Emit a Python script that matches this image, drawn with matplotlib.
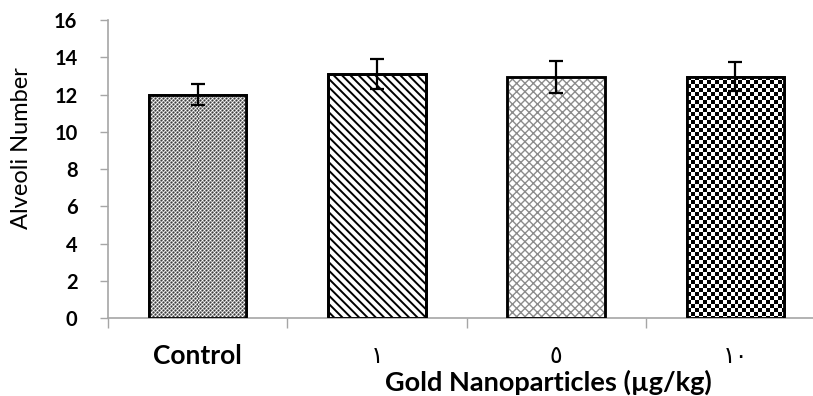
import numpy as np
import matplotlib
matplotlib.use("Agg")
import matplotlib.pyplot as plt

categories = ["Control", "١", "٥", "١٠"]
values = [12.0, 13.1, 12.95, 12.95]
errors = [0.55, 0.8, 0.85, 0.78]
yticks = [0, 2, 4, 6, 8, 10, 12, 14, 16]
ylabel = "Alveoli Number"
xlabel = "Gold Nanoparticles (µg/kg)"

FAM = ["Lato", "DejaVu Sans"]
plt.rcParams["font.family"] = FAM

W, H, DPI = 813, 396, 100
fig = plt.figure(figsize=(W / DPI, H / DPI), dpi=DPI)
ax = fig.add_axes([108 / W, 78 / H, (825 - 108) / W, (376 - 78) / H])

x = np.arange(len(categories))
plt.rcParams["hatch.linewidth"] = 1.4
bars = ax.bar(x, values, width=0.545, color="white", edgecolor="black",
              linewidth=2.0, zorder=2)
ax.errorbar(x, values, yerr=errors, fmt="none", ecolor="black",
            elinewidth=1.6, capsize=5, capthick=1.6, zorder=5)

ax.set_xlim(-0.5, len(categories) - 0.5)
ax.set_ylim(0, 16)
ax.set_yticks(yticks)
ax.set_yticklabels([str(v) for v in yticks], fontsize=14.5, fontweight="bold")
ax.set_xticks(x)
ax.set_xticklabels(categories, fontsize=19, fontweight="bold")
for lab in ax.get_xticklabels()[1:]:
    lab.set_fontweight("normal")
    lab.set_fontsize(17)
    lab.set_family(["DejaVu Sans"])
ax.tick_params(axis="x", length=0, pad=19)
ax.set_xticks(np.arange(len(categories) + 1) - 0.5, minor=True)
ax.tick_params(axis="x", which="minor", length=7, color="#a6a6a6", width=1)
ax.tick_params(axis="y", length=6, color="#a6a6a6", width=1, pad=16)
for s in ["top", "right"]:
    ax.spines[s].set_visible(False)
for s in ["left", "bottom"]:
    ax.spines[s].set_color("#a6a6a6")
    ax.spines[s].set_linewidth(1.2)

ax.set_ylabel(ylabel, fontsize=17)
ax.yaxis.label.set_va("center")
ax.yaxis.set_label_coords(-0.12, 0.57)
ax.set_xlabel(xlabel, fontsize=19.5, fontweight="bold")
ax.xaxis.label.set_va("center")
ax.xaxis.set_label_coords(0.614, -0.215)

# textures
def texture(bar, tile):
    x0, y0 = bar.get_x(), bar.get_y()
    x1, y1 = x0 + bar.get_width(), y0 + bar.get_height()
    (px0, py0), (px1, py1) = ax.transData.transform([(x0, y0), (x1, y1)])
    nx, ny = int(round(px1 - px0)) + 1, int(round(py1 - py0)) + 1
    th, tw = tile.shape
    img = np.tile(tile, (ny // th + 2, nx // tw + 2))[:ny, :nx]
    im = ax.imshow(img, cmap="gray", vmin=0, vmax=255, extent=(x0, x1, y0, y1),
                   origin="upper", interpolation="nearest", aspect="auto", zorder=2.5)
    im.set_clip_path(bar)

tile_ctrl = np.array([[255, 140, 60, 140],
                      [140, 180, 140, 210],
                      [60, 140, 255, 140],
                      [140, 210, 140, 180]])
texture(bars[0], tile_ctrl)
b = 255
k = 4
cell = np.kron(np.array([[0, b], [b, 0]]), np.ones((k, k)))
texture(bars[3], cell)

bars[1].set_hatch("\\" * 4)
bars[1].set_edgecolor("black")
bars[2].set_hatch("x" * 4)
bars[2].set_edgecolor("#8c8c8c")
try:
    bars[2].set_hatch_linewidth(1.0)
except Exception:
    pass

# redraw outlines on top
ax.bar(x, values, width=0.545, fill=False, edgecolor="black", linewidth=2.0, zorder=3)

fig.savefig("out.png", dpi=DPI)
